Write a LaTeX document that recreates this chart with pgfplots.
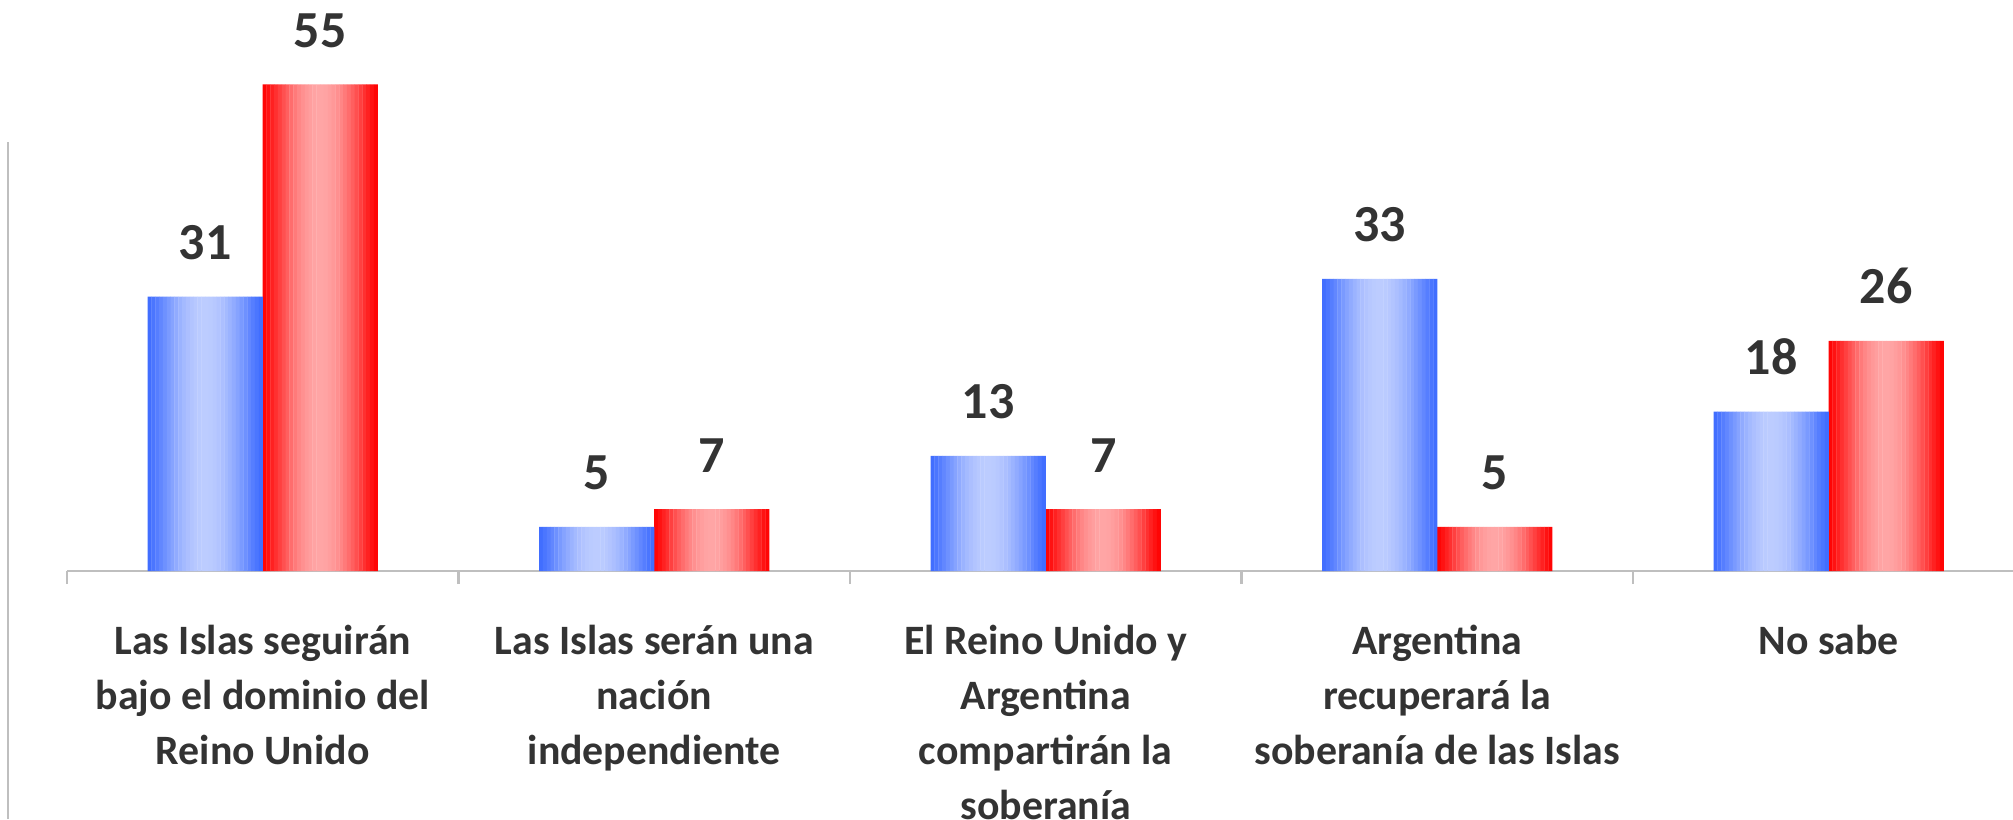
\documentclass[border=0pt]{standalone}
\usepackage{pgfplots}
\pgfplotsset{compat=1.18}
\usepackage{fontspec}
\setmainfont{Carlito}
\definecolor{txt}{RGB}{51,51,51}
\definecolor{axisgray}{RGB}{191,191,191}
\definecolor{blueedge}{RGB}{61,107,255}
\definecolor{bluemid}{RGB}{188,204,255}
\definecolor{rededge}{RGB}{255,0,0}
\definecolor{redmid}{RGB}{255,165,165}

% values per category (0..4)
\pgfplotstableread{
x blue red
0 31 55
1 5  7
2 13 7
3 33 5
4 18 26
}\datatable

% gradient slices across each bar: light in the middle, saturated at the edges
\def\nslices{30}
\foreach \i in {0,...,29}{
  \pgfmathsetmacro\p{100*(sin(180*(\i+0.5)/\nslices))^1.2}
  \xglobal\colorlet{bs\i}{bluemid!\p!blueedge}
  \xglobal\colorlet{rs\i}{redmid!\p!rededge}
}
\begin{document}
\begin{tikzpicture}
\path[use as bounding box] (0,0) rectangle (20.13cm,8.19cm);
\draw[axisgray, line width=0.4pt] (0.08cm,0) -- (0.08cm,6.77cm);
\begin{axis}[
  at={(0.67cm,2.48cm)}, anchor=south west,
  x=3.915cm, y=0.0885cm,
  xmin=-0.5, xmax=4.5, ymin=0, ymax=55,
  clip=false,
  axis y line=none, axis x line*=bottom,
  axis line style={axisgray, line width=0.6pt},
  xtick={0,1,2,3,4},
  major x tick style={draw=none},
  minor xtick={-0.5,0.5,1.5,2.5,3.5},
  minor x tick style={axisgray, line width=0.6pt},
  minor tick length=0.13cm,
  xtick align=outside,
  xticklabels={{Las Islas seguirán\\bajo el dominio del\\Reino Unido},
               {Las Islas serán una\\nación\\independiente},
               {El Reino Unido y\\Argentina\\compartirán la\\soberanía},
               {Argentina\\recuperará la\\soberanía de las Islas},
               {No sabe}},
  xticklabel style={align=center, text=txt, anchor=north, yshift=-0.27cm,
    font=\fontsize{11.9}{15.6}\selectfont\bfseries},
  /pgf/number format/assume math mode=true,
  nodes near coords style={anchor=base, yshift=0.37cm, text=txt,
    font=\fontsize{14.8}{17}\selectfont\bfseries},
]
\pgfplotsinvokeforeach{0,...,29}{
  \addplot[ybar, draw=none, fill=bs#1, bar width=0.041cm,
    bar shift={-1.15cm+(#1+0.5)*0.03833cm}] table[x=x, y=blue] {\datatable};
  \addplot[ybar, draw=none, fill=rs#1, bar width=0.041cm,
    bar shift={(#1+0.5)*0.03833cm}] table[x=x, y=red] {\datatable};
}
% value labels
\addplot[ybar, draw=none, fill=none, bar width=1.15cm, nodes near coords,
  every node near coord/.append style={xshift=-0.575cm}]
  table[x=x, y=blue] {\datatable};
\addplot[ybar, draw=none, fill=none, bar width=1.15cm, nodes near coords,
  every node near coord/.append style={xshift=0.575cm}]
  table[x=x, y=red] {\datatable};
\end{axis}
\end{tikzpicture}
\end{document}
